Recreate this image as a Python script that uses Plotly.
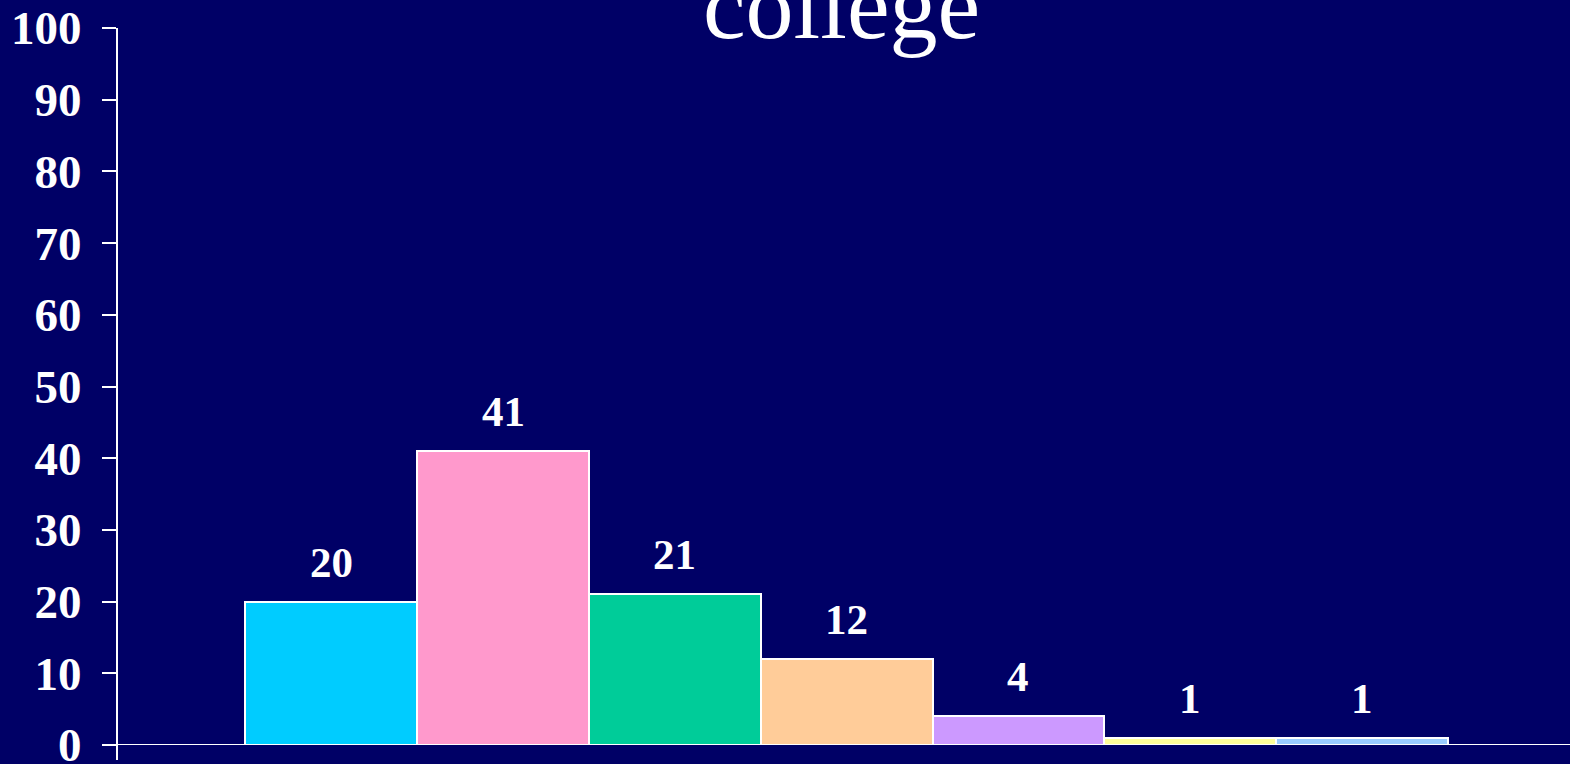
import plotly.graph_objects as go

# Chart data
categories = ["A", "B", "C", "D", "E", "F", "G"]
values = [20, 41, 21, 12, 4, 1, 1]
bar_colors = ["#00CCFF", "#FF99CC", "#00CC99", "#FFCC99", "#CC99FF", "#FFFF99", "#99CCFF"]
y_ticks = [0, 10, 20, 30, 40, 50, 60, 70, 80, 90, 100]
title_text = "college"

BG = "#000066"
W, H = 1570, 764
serif = "Liberation Serif, Times New Roman, serif"

x_pos = list(range(len(categories)))

fig = go.Figure()
fig.add_trace(go.Bar(
    x=x_pos,
    y=values,
    width=1.0,
    marker=dict(color=bar_colors, line=dict(color="white", width=2)),
    hoverinfo="skip",
))

# Value labels above each bar
for xi, v in zip(x_pos, values):
    fig.add_annotation(
        x=xi, y=v, xref="x", yref="y",
        text=f"<b>{v}</b>", showarrow=False,
        yanchor="bottom", yshift=14,
        font=dict(family=serif, size=43, color="white"),
    )

# Title (second line of a wrapped heading)
fig.add_annotation(
    x=0.4985, y=1.0, xref="paper", yref="paper",
    text=title_text, showarrow=False,
    yanchor="bottom", yshift=-33,
    font=dict(family=serif, size=96, color="white"),
)

# Axis lines that overshoot the corner
fig.add_shape(type="line", xref="paper", yref="y", x0=-0.0096, x1=1.0, y0=0, y1=0,
              line=dict(color="white", width=2))
fig.add_shape(type="line", xref="paper", yref="paper", x0=0, x1=0, y0=-0.0209, y1=1.0,
              line=dict(color="white", width=2))

fig.update_layout(
    width=W, height=H,
    margin=dict(l=117, r=0, t=28, b=19, autoexpand=False),
    paper_bgcolor=BG, plot_bgcolor=BG,
    showlegend=False,
    bargap=0,
    xaxis=dict(
        range=[-1.247, 7.21],
        showticklabels=False, showgrid=False, zeroline=False,
        showline=False, ticks="", automargin=False,
    ),
    yaxis=dict(
        range=[0, 100],
        tickvals=y_ticks,
        ticktext=[f"<b>{t}</b>" for t in y_ticks],
        ticks="outside", ticklen=14, tickwidth=2, tickcolor="white",
        tickfont=dict(family=serif, size=47, color="white"),
        showgrid=False, zeroline=False, showline=False,
        ticklabelstandoff=11,
        ticklabeloverflow="allow",
        automargin=False,
    ),
)

fig.write_html("out.html")
